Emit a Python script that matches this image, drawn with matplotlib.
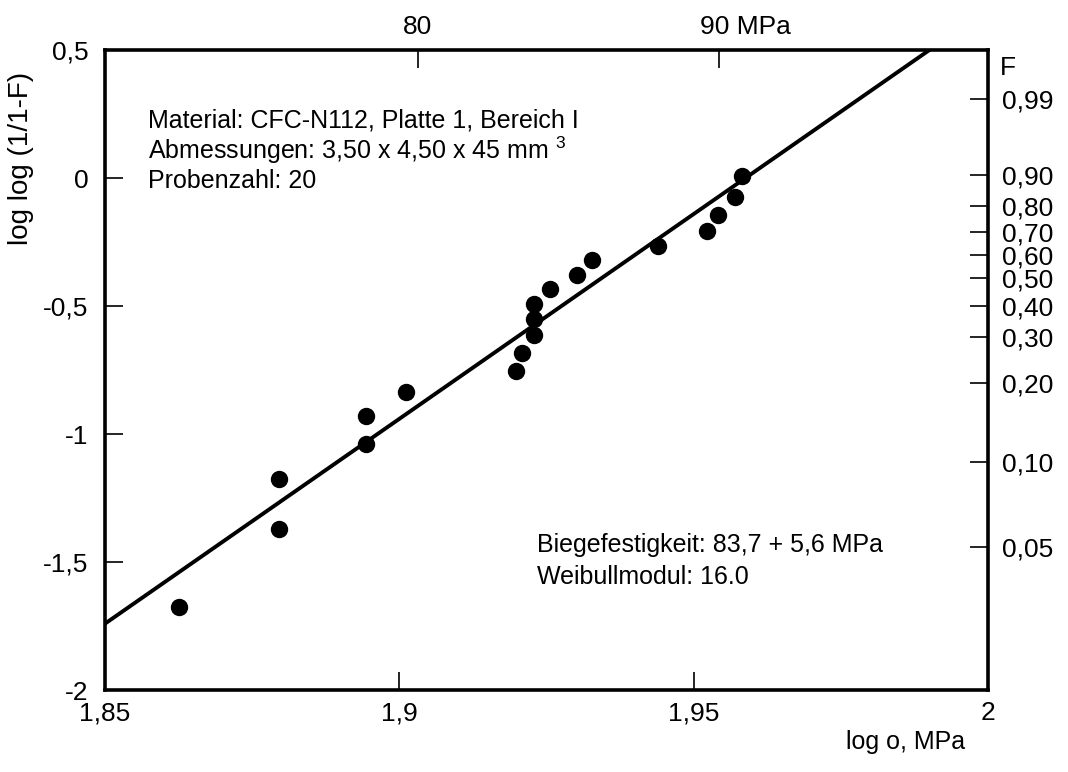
import numpy as np
import matplotlib
matplotlib.use("Agg")
import matplotlib.pyplot as plt
import matplotlib.transforms as mtransforms

plt.rcParams['font.family'] = ['Liberation Sans', 'DejaVu Sans']
plt.rcParams['mathtext.fontset'] = 'custom'
plt.rcParams['mathtext.rm'] = 'Liberation Sans'
plt.rcParams['mathtext.it'] = 'Liberation Sans'

# ---- data ----
log_sigma = [1.8625, 1.8796, 1.8796, 1.8944, 1.8944, 1.9011, 1.9198, 1.9208,
             1.9229, 1.9229, 1.9229, 1.9256, 1.9302, 1.9328, 1.9439, 1.9523,
             1.9542, 1.9570, 1.9582]
loglog_F = [-1.675, -1.370, -1.175, -1.040, -0.930, -0.835, -0.755, -0.685,
            -0.615, -0.552, -0.492, -0.434, -0.378, -0.322, -0.266, -0.207,
            -0.143, -0.073, 0.008]

weibull_m = 16.0          # slope of fitted line
log_sigma0 = 1.9588       # x where fitted line crosses 0

x_ticks = [1.85, 1.9, 1.95, 2.0]
x_ticklabels = ['1,85', '1,9', '1,95', '2']
y_ticks = [-2, -1.5, -1, -0.5, 0, 0.5]
y_ticklabels = ['-2', '-1,5', '-1', '-0,5', '0', '0,5']

top_mpa = [80, 90]
top_labels = ['80', '90 MPa']

F_labels = ['0,99', '0,90', '0,80', '0,70', '0,60', '0,50', '0,40', '0,30', '0,20', '0,10', '0,05']
F_pos = [0.31, 0.01, -0.11, -0.21, -0.30, -0.39, -0.50, -0.62, -0.80, -1.11, -1.44]

info_lines = ['Material: CFC-N112, Platte 1, Bereich I',
              'Abmessungen: 3,50 x 4,50 x 45 mm $^{3}$',
              'Probenzahl: 20']
result_lines = ['Biegefestigkeit: 83,7 + 5,6 MPa',
                'Weibullmodul: 16.0']

FS = 18
TFS = 19

fig = plt.figure(figsize=(10.68, 7.72), dpi=100)
ax = fig.add_axes([105/1068, 82/772, 883/1068, 640/772])

xlim = (1.85, 2.0)
ylim = (-2.0, 0.5)

# fitted line
xl = np.array(xlim)
ax.plot(xl, weibull_m * (xl - log_sigma0), color='black', lw=2.8, solid_capstyle='butt')
# points
ax.plot(log_sigma, loglog_F, 'o', color='black', ms=11.5, mec='black')

ax.set_xlim(*xlim)
ax.set_ylim(*ylim)
ax.set_xticks(x_ticks)
ax.set_xticklabels(x_ticklabels)
ax.set_yticks(y_ticks)
ax.set_yticklabels(y_ticklabels)
ax.tick_params(axis='both', direction='in', length=13, width=1.2, labelsize=TFS)
ax.tick_params(axis='x', pad=8)
ax.tick_params(axis='y', pad=12)
for s in ax.spines.values():
    s.set_linewidth(2.6)

ax.set_ylabel('log log (1/1-F)', fontsize=20)
ax.yaxis.set_label_coords(-0.08, 0.83)
ax.text(0.974, -0.081, 'log o, MPa', transform=ax.transAxes, fontsize=FS,
        ha='right', va='center')

# right F axis
axr = ax.twinx()
axr.set_ylim(*ylim)
axr.set_yticks(F_pos)
axr.set_yticklabels(F_labels)
axr.tick_params(axis='y', direction='in', length=13, width=1.2, labelsize=TFS, pad=10)
for s in axr.spines.values():
    s.set_visible(False)
ax.text(1.013, 0.972, 'F', transform=ax.transAxes, fontsize=TFS, ha='left', va='center')

# top MPa axis
axt = ax.twiny()
axt.set_xlim(*xlim)
axt.set_xticks(np.log10(top_mpa))
axt.set_xticklabels(top_labels)
axt.tick_params(axis='x', direction='in', length=13, width=1.2, labelsize=TFS, pad=8)
for s in axt.spines.values():
    s.set_visible(False)
lbls = axt.get_xticklabels()
lbls[1].set_horizontalalignment('left')
lbls[1].set_transform(lbls[1].get_transform() +
                      mtransforms.ScaledTranslation(-0.19, 0, fig.dpi_scale_trans))

# annotations
for i, t in enumerate(info_lines):
    ax.text(0.049, 0.89 - i * 0.047, t, transform=ax.transAxes, fontsize=FS,
            ha='left', va='center')
for i, t in enumerate(result_lines):
    ax.text(0.489, 0.227 - i * 0.05, t, transform=ax.transAxes, fontsize=FS,
            ha='left', va='center')

fig.savefig('out.png', dpi=100)
